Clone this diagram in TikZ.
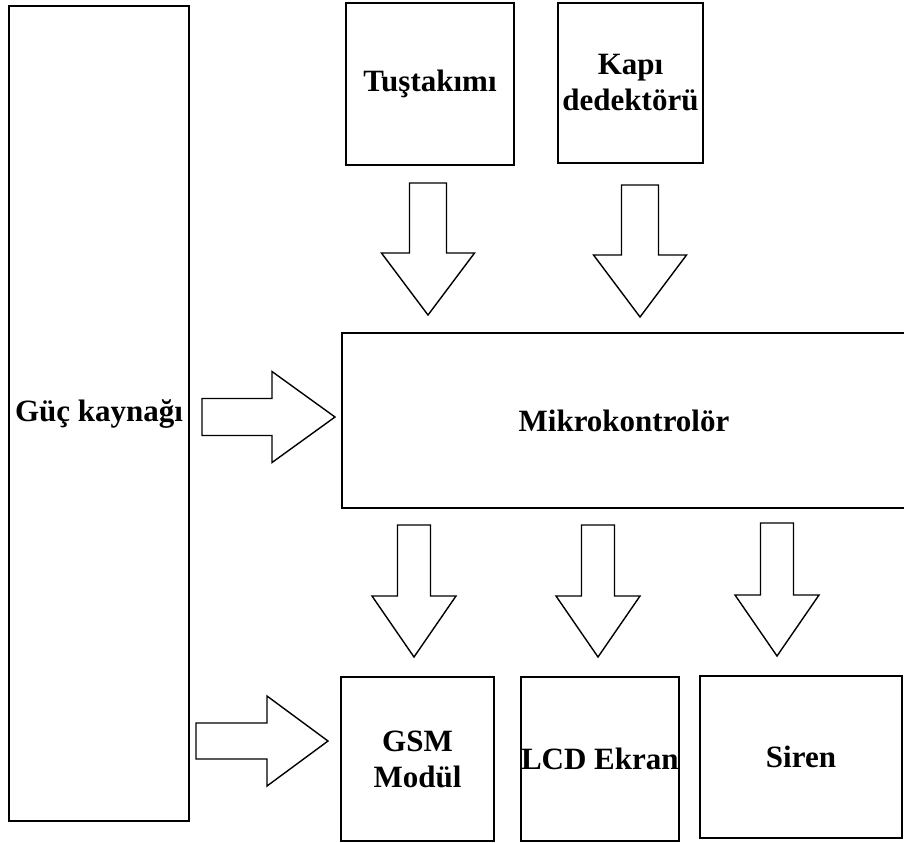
\documentclass[tikz,border=0pt]{standalone}
\usepackage{fontspec}
\setmainfont{Liberation Serif}
\usepackage{tikz}
\usetikzlibrary{calc}

\begin{document}
\begin{tikzpicture}[x=0.5pt, y=-0.5pt,
                    every node/.style={draw, line width=1pt, rectangle, anchor=north west,
                                       inner sep=0pt, outer sep=0pt, align=center,
                                       font=\bfseries\fontsize{15.5}{18}\selectfont},
                    blk/.style={draw, line width=0.7pt, line join=miter},
                    downblk/.style n args={3}{blk, to path={
                      let \p1=(\tikztostart), \p2=(\tikztotarget) in
                      (\x1-#1,\y1) -- (\x1+#1,\y1) -- (\x1+#1,\y2+#3) -- (\x1+#2,\y2+#3)
                      -- (\x2,\y2) -- (\x1-#2,\y2+#3) -- (\x1-#1,\y2+#3) -- cycle}},
                    rightblk/.style n args={3}{blk, to path={
                      let \p1=(\tikztostart), \p2=(\tikztotarget) in
                      (\x1,\y1+#1) -- (\x2-#3,\y1+#1) -- (\x2-#3,\y1+#2) -- (\x2,\y2)
                      -- (\x2-#3,\y1-#2) -- (\x2-#3,\y1-#1) -- (\x1,\y1-#1) -- cycle}}]
\useasboundingbox (0,0) rectangle (904,842);
\node[minimum width=90pt, minimum height=407.5pt] (guc) at (9,6) {Güç kaynağı};
\node[minimum width=84pt, minimum height=81pt] (tus) at (346,3) {Tuştakımı};
\node[minimum width=72.5pt, minimum height=80pt] (kapi) at (558,3) {Kapı\\dedektörü};
\node[minimum width=282pt, minimum height=87.5pt] (mikro) at (342,333) {Mikrokontrolör};
\node[minimum width=76.5pt, minimum height=82pt] (gsm) at (341,677) {GSM\\Modül};
\node[minimum width=77pt, minimum height=82pt] (lcd) at (521,677) {LCD Ekran};
\node[minimum width=101pt, minimum height=81pt] (siren) at (700,676) {Siren};
\coordinate (tus out) at (428,183);
\coordinate (tus in) at (428,315);
\coordinate (kapi out) at (640,185);
\coordinate (kapi in) at (640,317);
\coordinate (guc out) at (202,417);
\coordinate (guc in) at (335,417);
\coordinate (guc out2) at (196,741);
\coordinate (guc in2) at (328,741);
\coordinate (gsm out) at (414,525);
\coordinate (gsm in) at (414,657);
\coordinate (lcd out) at (598,525);
\coordinate (lcd in) at (598,657);
\coordinate (siren out) at (777,523);
\coordinate (siren in) at (777,656);
\draw[downblk={9.25pt}{23.25pt}{31pt}] (tus out) to (tus in);
\draw[downblk={9.25pt}{23.25pt}{31pt}] (kapi out) to (kapi in);
\draw[rightblk={9.25pt}{22.75pt}{31.5pt}] (guc out) to (guc in);
\draw[rightblk={9pt}{22.5pt}{30.5pt}] (guc out2) to (guc in2);
\draw[downblk={8.25pt}{21pt}{30.5pt}] (gsm out) to (gsm in);
\draw[downblk={8.25pt}{21pt}{30.5pt}] (lcd out) to (lcd in);
\draw[downblk={8.25pt}{21pt}{30.5pt}] (siren out) to (siren in);
\end{tikzpicture}
\end{document}
